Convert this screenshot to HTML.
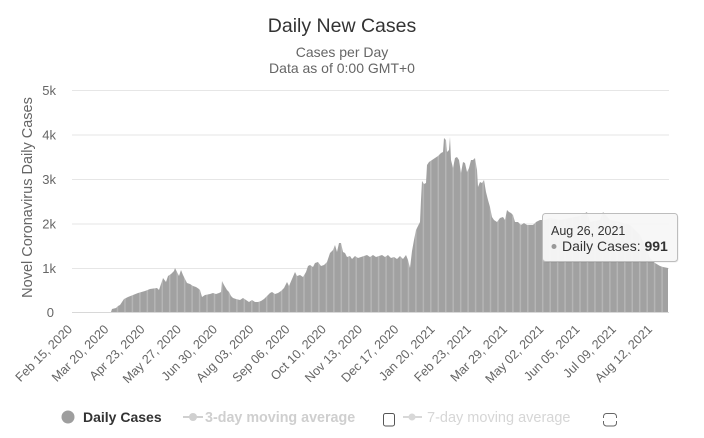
<!DOCTYPE html>
<html><head><meta charset="utf-8"><style>
html,body{margin:0;padding:0;background:#fff;}
svg{display:block;font-family:"Liberation Sans",sans-serif;}
</style></head><body>
<svg width="704" height="438" viewBox="0 0 704 438" xmlns="http://www.w3.org/2000/svg">
<defs>
<pattern id="p" x="72" y="0" width="7.46" height="20" patternUnits="userSpaceOnUse">
<rect width="7.46" height="20" fill="#a1a1a1"/>
<rect x="0" width="1.5" height="20" fill="#b5b5b5"/>
</pattern>
</defs>
<rect width="704" height="438" fill="#fff"/>
<text x="342" y="32" text-anchor="middle" font-size="19.5" fill="#333">Daily New Cases</text>
<text x="342" y="57" text-anchor="middle" font-size="14" fill="#666">Cases per Day</text>
<text x="342" y="73" text-anchor="middle" font-size="14" fill="#666">Data as of 0:00 GMT+0</text>
<g stroke="#e6e6e6" stroke-width="1">
<line x1="72" x2="669" y1="90.5" y2="90.5"/>
<line x1="72" x2="669" y1="135" y2="135"/>
<line x1="72" x2="669" y1="179.5" y2="179.5"/>
<line x1="72" x2="669" y1="224" y2="224"/>
<line x1="72" x2="669" y1="268.5" y2="268.5"/>
</g>
<g font-size="13" fill="#666" text-anchor="end">
<text x="56" y="95">5k</text>
<text x="56" y="139.5">4k</text>
<text x="56" y="184">3k</text>
<text x="56" y="228.5">2k</text>
<text x="56" y="273">1k</text>
<text x="54" y="317">0</text>
</g>
<text transform="translate(32,197.5) rotate(-90)" text-anchor="middle" font-size="14.5" fill="#666">Novel Coronavirus Daily Cases</text>
<path fill="url(#p)" d="M72,312 L111,312 L112,309 L116,308 L118,306 L120,305 L122,302 L124,299 L128,297 L133,295 L138,293 L145,291 L150,289 L157,288 L159,290 L160,287 L163,278 L166,282 L168,276 L171,274 L174,271 L175,268 L177,272 L179,276 L181,270 L183,275 L185,279 L187,283 L190,284 L193,286 L196,287 L199,289 L200,290 L202,297 L205,295 L210,294 L213,293 L216,294 L219,293 L221,292 L222,281 L224,285 L227,290 L229,292 L231,296 L233,298 L236,299 L240,300 L243,298 L246,300 L249,302 L252,300 L255,302 L258,302 L261,301 L264,299 L267,296 L270,293 L272,292 L275,294 L278,293 L281,291 L284,288 L287,282 L289,286 L292,279 L295,272 L297,276 L300,275 L303,277 L306,272 L308,266 L310,265 L313,267 L315,263 L318,262 L321,266 L324,265 L327,262 L330,253 L333,250 L335,245 L337,252 L339,243 L341,243 L343,252 L345,253 L347,257 L350,256 L352,259 L355,256 L358,258 L361,257 L364,256 L367,255 L370,257 L373,255 L376,257 L379,256 L382,255 L385,257 L388,255 L391,258 L394,257 L397,259 L400,256 L403,259 L406,255 L408,260 L410,268 L412,251 L414,240 L416,230 L418,226 L420,222 L421,200 L422,181 L424,184 L426,183 L427,165 L429,162 L432,160 L435,158 L438,156 L441,153 L443,152 L444,138 L446,140 L447,152 L449,150 L450,137 L451,160 L453,168 L455,158 L457,157 L459,160 L461,173 L463,162 L465,163 L467,172 L469,168 L471,160 L473,160 L475,158 L477,170 L478,187 L480,182 L482,183 L484,180 L486,192 L488,200 L490,207 L492,217 L494,220 L497,222 L500,218 L503,217 L505,220 L507,210 L509,212 L511,213 L513,215 L515,222 L518,222 L521,225 L524,223 L527,225 L530,225 L533,225 L536,222 L540,220 L545,220 L550,218 L560,220 L570,218 L580,216 L587,212 L590,222 L600,220 L603,212 L610,220 L620,222 L630,225 L640,235 L650,258 L655,263 L660,266 L663,267 L668,268 L668,312 Z"/>
<line x1="72" x2="669" y1="312.5" y2="312.5" stroke="#d8d8d8" stroke-width="1"/>
<g font-size="12.6" fill="#666" text-anchor="end">
<text transform="translate(73,330) rotate(-45)">Feb 15, 2020</text>
<text transform="translate(109.3,330) rotate(-45)">Mar 20, 2020</text>
<text transform="translate(145.5,330) rotate(-45)">Apr 23, 2020</text>
<text transform="translate(181.8,330) rotate(-45)">May 27, 2020</text>
<text transform="translate(218,330) rotate(-45)">Jun 30, 2020</text>
<text transform="translate(254.3,330) rotate(-45)">Aug 03, 2020</text>
<text transform="translate(290.5,330) rotate(-45)">Sep 06, 2020</text>
<text transform="translate(326.8,330) rotate(-45)">Oct 10, 2020</text>
<text transform="translate(363,330) rotate(-45)">Nov 13, 2020</text>
<text transform="translate(399.3,330) rotate(-45)">Dec 17, 2020</text>
<text transform="translate(435.5,330) rotate(-45)">Jan 20, 2021</text>
<text transform="translate(471.8,330) rotate(-45)">Feb 23, 2021</text>
<text transform="translate(508,330) rotate(-45)">Mar 29, 2021</text>
<text transform="translate(544.3,330) rotate(-45)">May 02, 2021</text>
<text transform="translate(580.5,330) rotate(-45)">Jun 05, 2021</text>
<text transform="translate(616.8,330) rotate(-45)">Jul 09, 2021</text>
<text transform="translate(653,330) rotate(-45)">Aug 12, 2021</text>
</g>
<!-- tooltip -->
<rect x="543.5" y="214.5" width="135" height="48" rx="3" fill="rgba(0,0,0,0.08)"/>
<rect x="542.5" y="213.5" width="135" height="48" rx="3" fill="#f7f7f7" fill-opacity="0.96" stroke="#bdbdbd" stroke-width="1"/>
<text x="551" y="235" font-size="12.5" fill="#333">Aug 26, 2021</text>
<circle cx="554" cy="246.5" r="2.5" fill="#999"/>
<text x="562" y="251" font-size="14" fill="#333">Daily Cases: <tspan font-weight="bold">991</tspan></text>
<!-- legend -->
<circle cx="68" cy="417" r="6.5" fill="#9e9e9e"/>
<text x="83" y="422" font-size="14" font-weight="bold" fill="#333">Daily Cases</text>
<line x1="183" x2="203" y1="417" y2="417" stroke="#d0d0d0" stroke-width="2"/>
<circle cx="193" cy="417" r="4" fill="#d0d0d0"/>
<text x="205" y="422" font-size="14.3" font-weight="bold" fill="#cfcfcf">3-day moving average</text>
<rect x="383.5" y="413.5" width="11" height="12.5" rx="2" fill="#fff" stroke="#555" stroke-width="1"/>
<line x1="403" x2="422" y1="417" y2="417" stroke="#d8d8d8" stroke-width="2"/>
<circle cx="412" cy="417" r="3.5" fill="#d8d8d8"/>
<text x="427" y="422" font-size="14.5" fill="#d6d6d6">7-day moving average</text>
<rect x="603.5" y="413.5" width="13" height="12.5" rx="3" fill="#fff" stroke="#666" stroke-width="1"/>
<line x1="603.5" x2="603.5" y1="418" y2="421" stroke="#fff" stroke-width="2"/>
<line x1="616.5" x2="616.5" y1="418" y2="421" stroke="#fff" stroke-width="2"/>
</svg>
</body></html>
